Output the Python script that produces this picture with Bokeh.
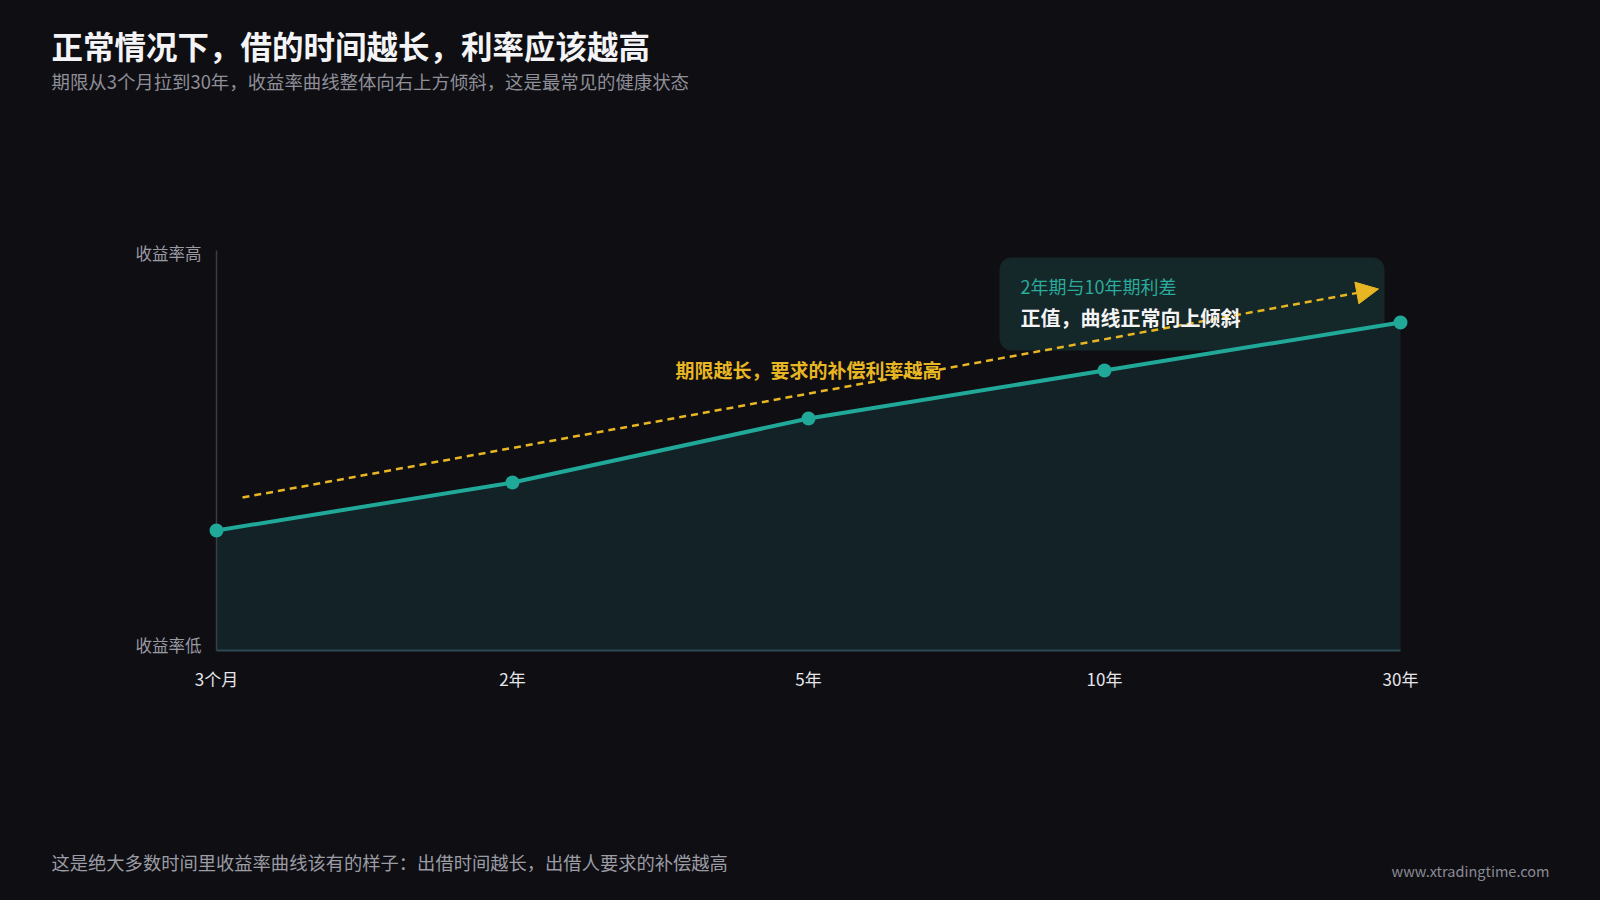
from bokeh.plotting import figure
from bokeh.models import Range1d, FixedTicker, Label, BoxAnnotation, Arrow, NormalHead
from bokeh.embed import file_html
from bokeh.resources import INLINE

# ---- data ----
categories = ["3个月", "2年", "5年", "10年", "30年"]
yields = [30, 42, 58, 70, 82]          # relative yield level (0 = 收益率低, 100 = 收益率高)
y_tick_values = [1.5, 99.5]
y_tick_labels = ["收益率低", "收益率高"]

title_text = "正常情况下，借的时间越长，利率应该越高"
subtitle_text = "期限从3个月拉到30年，收益率曲线整体向右上方倾斜，这是最常见的健康状态"
footer_text = "这是绝大多数时间里收益率曲线该有的样子：出借时间越长，出借人要求的补偿越高"
watermark_text = "www.xtradingtime.com"
trend_text = "期限越长，要求的补偿利率越高"
box_title = "2年期与10年期利差"
box_body = "正值，曲线正常向上倾斜"

# ---- style ----
BG = "#0e0e13"
TEAL = "#20a899"
AREA = "#122227"
YELLOW = "#e8b622"
FONT = "Noto Sans CJK SC"

W, H = 1584, 884

# page-pixel helpers (x 0..4 -> 216..1400 px, y 0..100 -> 650..250 px)
def dx(px):
    return (px - 216) / 296.0

def dy(py):
    return (650 - py) / 4.0

xs = list(range(len(categories)))

p = figure(width=W, height=H,
           x_range=Range1d(dx(0), dx(W)), y_range=Range1d(dy(H), dy(0)),
           output_backend="svg", toolbar_location=None, min_border=0,
           background_fill_color=BG, border_fill_color=BG,
           outline_line_color=None)
p.grid.visible = False

# axes drawn at fixed data locations
p.xaxis.fixed_location = 0
p.xaxis.ticker = FixedTicker(ticks=xs)
p.xaxis.major_label_overrides = {i: c for i, c in zip(xs, categories)}
p.xaxis.axis_line_color = None
p.xaxis.major_tick_line_color = None
p.xaxis.minor_tick_line_color = None
p.xaxis.major_tick_out = 0
p.xaxis.major_tick_in = 0
p.xaxis.major_label_standoff = 15
p.xaxis.major_label_text_font = FONT
p.xaxis.major_label_text_font_size = "17px"
p.xaxis.major_label_text_color = "#e6e6ea"

p.yaxis.fixed_location = 0
p.yaxis.ticker = FixedTicker(ticks=y_tick_values)
p.yaxis.major_label_overrides = {v: t for v, t in zip(y_tick_values, y_tick_labels)}
p.yaxis.axis_line_color = None
p.yaxis.major_tick_line_color = None
p.yaxis.minor_tick_line_color = None
p.yaxis.major_tick_out = 0
p.yaxis.major_tick_in = 0
p.yaxis.major_label_standoff = 15
p.yaxis.major_label_text_font = FONT
p.yaxis.major_label_text_font_size = "16.5px"
p.yaxis.major_label_text_color = "#9a9aa3"

# annotation box (beneath glyphs)
box = BoxAnnotation(left=dx(999), right=dx(1384), top=dy(257), bottom=dy(350),
                    fill_color="#142729", fill_alpha=1.0, line_alpha=0,
                    border_radius=12, level="underlay")
p.add_layout(box)

# area, axis lines, curve
p.varea(x=xs, y1=[0] * len(xs), y2=yields, fill_color=AREA)
p.segment(x0=[0], y0=[0], x1=[0], y1=[100], line_color="#3b3e47", line_width=1.5)
p.segment(x0=[0], y0=[0], x1=[xs[-1]], y1=[0], line_color="#2d4955", line_width=2)
p.line(xs, yields, line_color=TEAL, line_width=4)
p.scatter(xs, yields, size=14, fill_color=TEAL, line_color=None)

# dashed trend arrow
arrow = Arrow(end=NormalHead(size=22, fill_color=YELLOW, line_color=YELLOW),
              x_start=dx(242), y_start=dy(497), x_end=dx(1378), y_end=dy(288.5),
              line_color=YELLOW, line_width=2.5, line_dash="7 5")
p.add_layout(arrow)

def add_label(x, y, text, size, color, bold=False, align="left"):
    p.add_layout(Label(x=x, y=y, text=text, text_font=FONT, text_font_size=size,
                       text_color=color, text_font_style="bold" if bold else "normal",
                       text_baseline="middle", text_align=align))

add_label(dx(808), dy(369), trend_text, "19px", YELLOW, bold=True, align="center")
add_label(dx(1020), dy(285), box_title, "18px", "#2bab9b")
add_label(dx(1020), dy(317), box_body, "20px", "#f4f4f4", bold=True)

add_label(dx(51), dy(44), title_text, "31.5px", "#f4f4f6", bold=True)
add_label(dx(51), dy(80), subtitle_text, "18.4px", "#8f8f98")
add_label(dx(51), dy(861), footer_text, "18.3px", "#9c9ca4")
add_label(dx(1549), dy(870), watermark_text, "14.5px", "#8a8a93", align="right")

html = file_html(p, INLINE, title="收益率曲线")
html = html.replace("<head>", "<head><style>html,body{background:%s;}</style>" % BG, 1)
open("out.html", "w").write(html)
